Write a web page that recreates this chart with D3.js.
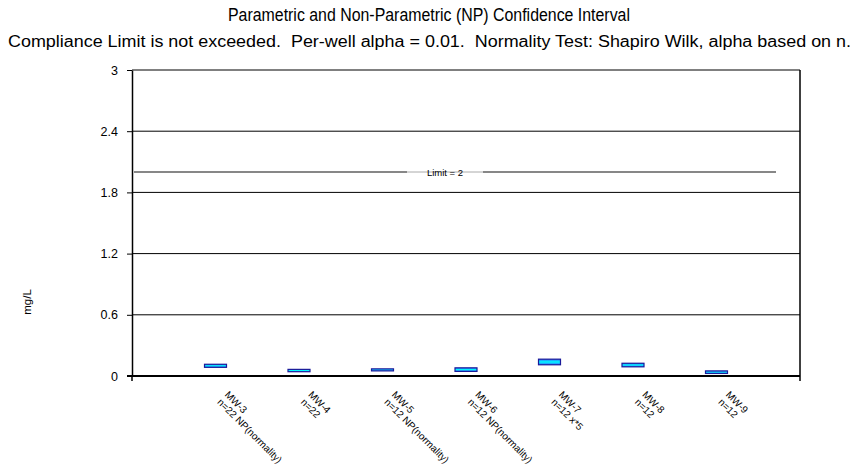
<!DOCTYPE html>
<html>
<head>
<meta charset="utf-8">
<script src="https://cdn.jsdelivr.net/npm/d3@7"></script>
<style>
  body { margin: 0; background: #fff; }
  text { font-family: "Liberation Sans", Arial, sans-serif; fill: #000; }
</style>
</head>
<body>
<div id="chart"></div>
<script>
// wells and their confidence intervals (mg/L)
const wells = ["MW-3", "MW-4", "MW-5", "MW-6", "MW-7", "MW-8", "MW-9"];
const sampleInfo = ["n=22 NP(normality)", "n=22", "n=12 NP(normality)", "n=12 NP(normality)", "n=12 x*5", "n=12", "n=12"];
const upperLimit = [0.115, 0.065, 0.07, 0.08, 0.165, 0.125, 0.05];
const lowerLimit = [0.085, 0.042, 0.05, 0.045, 0.11, 0.09, 0.025];
const yTicks = [0, 0.6, 1.2, 1.8, 2.4, 3];
const complianceLimit = 2;

const width = 860, height = 469;
const margin = {top: 70, right: 60, bottom: 93, left: 132};

const data = wells.map((w, i) => ({well: w, info: sampleInfo[i], hi: upperLimit[i], lo: lowerLimit[i]}));

const svg = d3.select("#chart")
  .append("svg")
  .attr("width", width)
  .attr("height", height);

//gradient fill for the interval boxes
const grad = svg.append("defs").append("linearGradient")
  .attr("id", "boxFill")
  .attr("x1", 0).attr("y1", 0).attr("x2", 0).attr("y2", 1);
grad.append("stop").attr("offset", "0%").attr("stop-color", "#3366ff");
grad.append("stop").attr("offset", "50%").attr("stop-color", "#00ffff");
grad.append("stop").attr("offset", "100%").attr("stop-color", "#3366ff");

const xScale = d3.scalePoint()
  .domain(wells)
  .range([margin.left, width - margin.right])
  .padding(1);

const yScale = d3.scaleLinear()
  .domain([0, 3])
  .range([height - margin.bottom, margin.top]);

//titles (fitted to the width the original report uses)
svg.append("text")
  .text("Parametric and Non-Parametric (NP) Confidence Interval")
  .attr("x", 228).attr("y", 21)
  .attr("textLength", 402)
  .attr("lengthAdjust", "spacingAndGlyphs")
  .style("font-size", "17.5px");
svg.append("text")
  .text("Compliance Limit is not exceeded.  Per-well alpha = 0.01.  Normality Test: Shapiro Wilk, alpha based on n.")
  .attr("x", 8).attr("y", 47)
  .attr("textLength", 843)
  .attr("lengthAdjust", "spacingAndGlyphs")
  .attr("xml:space", "preserve")
  .style("font-size", "16px");

//horizontal gridlines
svg.append("g")
  .selectAll("line")
  .data(yTicks.filter(d => d > 0))
  .join("line")
    .attr("x1", margin.left).attr("x2", width - margin.right)
    .attr("y1", d => yScale(d)).attr("y2", d => yScale(d))
    .attr("stroke", "#000").attr("stroke-width", 1);

//right border
svg.append("line")
  .attr("x1", width - margin.right).attr("x2", width - margin.right)
  .attr("y1", margin.top).attr("y2", height - margin.bottom + 5)
  .attr("stroke", "#000").attr("stroke-width", 1.5);

//y axis
const leftAxis = d3.axisLeft(yScale)
  .tickValues(yTicks)
  .tickFormat(d3.format("~g"))
  .tickSize(5)
  .tickPadding(9)
  .tickSizeOuter(0);
const yAxisG = svg.append("g")
  .attr("transform", `translate(${margin.left}, 0)`)
  .call(leftAxis);
yAxisG.select(".domain").attr("stroke-width", 1.5);
yAxisG.selectAll("text").style("font-size", "12.5px").attr("font-family", null);

//bottom axis line
svg.append("line")
  .attr("x1", margin.left - 5).attr("x2", width - margin.right)
  .attr("y1", yScale(0)).attr("y2", yScale(0))
  .attr("stroke", "#000").attr("stroke-width", 2);
svg.append("line")
  .attr("x1", margin.left).attr("x2", margin.left)
  .attr("y1", yScale(0)).attr("y2", yScale(0) + 5)
  .attr("stroke", "#000").attr("stroke-width", 1.5);

//compliance limit line with label
const limY = yScale(complianceLimit);
const limStart = margin.left + 2, limEnd = 776;
const labelX = 445, gapHalf = 38;
svg.append("line")
  .attr("x1", limStart).attr("x2", labelX - gapHalf)
  .attr("y1", limY).attr("y2", limY)
  .attr("stroke", "#111").attr("stroke-width", 1.2);
svg.append("line")
  .attr("x1", labelX - gapHalf).attr("x2", labelX + gapHalf)
  .attr("y1", limY).attr("y2", limY)
  .attr("stroke", "#aaa").attr("stroke-width", 1);
svg.append("line")
  .attr("x1", labelX + gapHalf).attr("x2", limEnd)
  .attr("y1", limY).attr("y2", limY)
  .attr("stroke", "#111").attr("stroke-width", 1.2);
svg.append("text")
  .text("Limit = " + complianceLimit)
  .attr("x", labelX).attr("y", limY + 3.5)
  .attr("text-anchor", "middle")
  .style("font-size", "9.5px");

//confidence interval boxes
const boxW = 22;
svg.append("g")
  .selectAll("rect")
  .data(data)
  .join("rect")
    .attr("x", d => xScale(d.well) - boxW / 2)
    .attr("y", d => yScale(d.hi))
    .attr("width", boxW)
    .attr("height", d => yScale(d.lo) - yScale(d.hi))
    .attr("fill", "url(#boxFill)")
    .attr("stroke", "#1a1a99")
    .attr("stroke-width", 1.2);

//rotated category labels
const labels = svg.append("g")
  .selectAll("text")
  .data(data)
  .join("text")
    .attr("transform", d => `translate(${xScale(d.well) + 14}, 390) rotate(45)`)
    .style("font-size", "10px");
labels.append("tspan").attr("x", 0).attr("dy", "0.75em").text(d => d.well);
labels.append("tspan").attr("x", 0).attr("dy", "1.05em").text(d => d.info);

//y axis label
svg.append("text")
  .text("mg/L")
  .attr("transform", "translate(31, 302) rotate(-90)")
  .attr("text-anchor", "middle")
  .style("font-size", "11.5px");
</script>
</body>
</html>
